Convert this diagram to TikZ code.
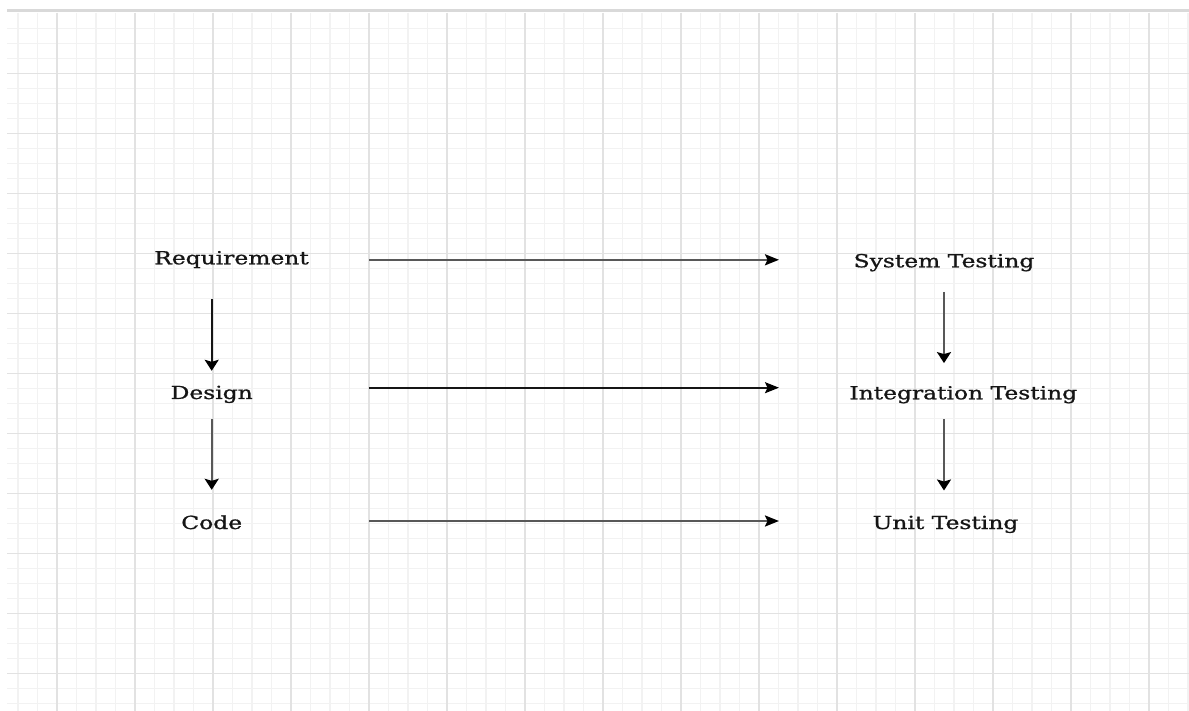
\documentclass[tikz,border=0pt]{standalone}
\usepackage{fontspec}
\newfontfamily\labelfont[FakeBold=0.9]{DejaVu Serif}
\usetikzlibrary{arrows.meta}

\definecolor{gridminor}{HTML}{F2F2F2}
\definecolor{gridmajor}{HTML}{E2E2E2}
\definecolor{topbar}{HTML}{D9D9D9}
\definecolor{ink}{HTML}{151515}
\definecolor{wire}{HTML}{585858}

\begin{document}
\begin{tikzpicture}[x=1pt,y=-1pt,
  stagelabel/.style={inner sep=0pt, text height=14pt, text depth=5pt,
    anchor=base, text=ink, font=\labelfont\fontsize{18}{20}\selectfont},
  vlink/.style={-{Stealth[length=11pt,width=14pt,inset=2pt,color=black]}},
  hlink/.style={-{Stealth[length=14pt,width=11pt,inset=2.5pt,color=black]}},
  darkwire/.style={draw=ink, line width=1.8pt},
  greywire/.style={draw=wire, line width=2.2pt},
]
% page
\useasboundingbox (0,0) rectangle (1189,711);
\fill[white] (0,0) rectangle (1189,711);

% background grid: minor lines every 19.5 x 15, major every 4th
\foreach \k in {-2,...,58}
  \draw[gridminor, line width=1.3pt] ({57+19.5*\k},13) -- ({57+19.5*\k},711);
\foreach \k in {-3,...,42}
  \draw[gridminor, line width=1.3pt] (7,{73.3+15*\k}) -- (1189,{73.3+15*\k});
\foreach \m in {0,...,14}
  \draw[gridmajor, line width=1.5pt] ({57+78*\m},13) -- ({57+78*\m},711);
\foreach \m in {1,...,11}
  \draw[gridmajor, line width=1.5pt] (7,{13.3+60*\m}) -- (1189,{13.3+60*\m});

% top rule
\fill[topbar] (7,9.5) rectangle (1189,12.5);

% stages
\node[stagelabel] (req)   at (231.5,264.3) {\scalebox{1.3}[1]{Requirement}};
\node[stagelabel] (dsg)   at (211.7,399)   {\scalebox{1.3}[1]{Design}};
\node[stagelabel] (code)  at (211.7,529)   {\scalebox{1.3}[1]{Code}};
\node[stagelabel] (sys)   at (944,267.3)   {\scalebox{1.3}[1]{System Testing}};
\node[stagelabel] (integ) at (963.3,399.3) {\scalebox{1.3}[1]{Integration Testing}};
\node[stagelabel] (unit)  at (945.5,529)   {\scalebox{1.3}[1]{Unit Testing}};

% development chain
\draw[vlink, darkwire, shorten <=29.7pt, shorten >=14pt]
  (req.south -| dsg.north) -- (dsg.north);
\draw[vlink, greywire, shorten <=15pt, shorten >=25pt]
  (dsg.south) -- (code.north);

% testing chain
\draw[vlink, greywire, shorten <=19.4pt, shorten >=22pt]
  (sys.south) -- (sys.south |- integ.north);
\draw[vlink, greywire, shorten <=14.7pt, shorten >=24.3pt]
  (sys.south |- integ.south) -- (sys.south |- unit.north);

% each stage mapped to its test level
\draw[hlink, greywire, shorten <=137.5pt, shorten >=165pt]
  (req.center) -- (req.center -| sys.center);
\draw[hlink, darkwire, shorten <=157.3pt, shorten >=184.3pt]
  ([yshift=6.8pt]dsg.center) -- ([yshift=6.8pt]dsg.center -| integ.center);
\draw[hlink, greywire, shorten <=157.3pt, shorten >=166.5pt]
  ([yshift=3.5pt]code.center) -- ([yshift=3.5pt]code.center -| unit.center);
\end{tikzpicture}
\end{document}
